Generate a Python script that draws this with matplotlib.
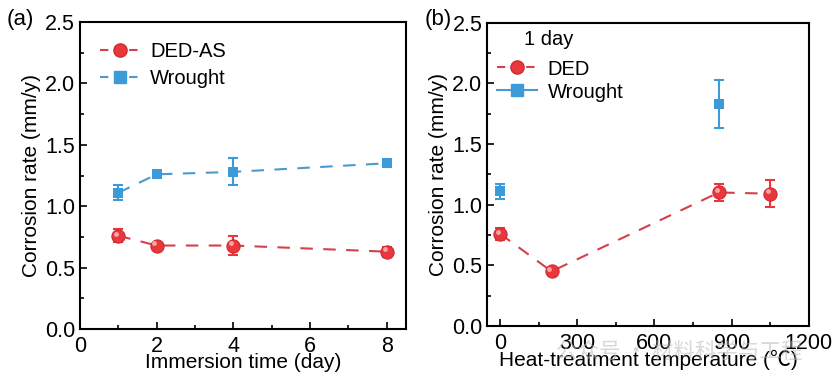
import numpy as np
import matplotlib
matplotlib.use("Agg")
import matplotlib.pyplot as plt
from matplotlib.lines import Line2D
from matplotlib.ticker import MultipleLocator
from matplotlib.transforms import ScaledTranslation

plt.rcParams['font.family'] = ['Liberation Sans', 'Noto Sans CJK SC', 'DejaVu Sans']
plt.rcParams['font.size'] = 14

# (a) immersion time
days = [1, 2, 4, 8]
ded_as = [0.76, 0.68, 0.68, 0.63]
ded_as_err = [0.055, 0.02, 0.08, 0.04]
wrought_a = [1.11, 1.26, 1.28, 1.35]
wrought_a_err = [0.06, 0.02, 0.11, 0.03]

# (b) heat-treatment temperature
temp_ded = [0, 200, 850, 1050]
ded = [0.76, 0.45, 1.10, 1.09]
ded_err = [0.05, 0.03, 0.07, 0.11]
temp_wr = [0, 850]
wrought_b = [1.11, 1.83]
wrought_b_err = [0.06, 0.20]

red = '#e8383d'
red_edge = '#d02a30'
red_line = '#d4404c'
blue = '#3d9ad8'
blue_line = '#4a9acb'

fig = plt.figure(figsize=(8.4, 3.89), dpi=100)
ax1 = fig.add_axes([0.0952, 0.1542, 0.388, 0.789])
ax2 = fig.add_axes([0.580, 0.162, 0.383, 0.780])


def sphere(ax, x, y, err, lc):
    ax.errorbar(x, y, yerr=err, color=red, ecolor=red, elinewidth=1.5, capsize=3.5,
                capthick=1.5, ls='none', zorder=3)
    ax.plot(x, y, ls='--', color=lc, lw=1.5, dashes=(6, 5), zorder=2)
    ax.plot(x, y, 'o', ms=9.5, color=red, mec=red_edge, mew=0.8, zorder=4)
    # small highlight so the marker looks like a shaded ball
    off = ax.transData + ScaledTranslation(-0.022, 0.022, fig.dpi_scale_trans)
    ax.plot(x, y, 'o', ms=3.5, color='#f7a5a5', mew=0, zorder=5, transform=off)


def style(ax):
    ax.tick_params(which='both', direction='in', top=False, right=False, labelsize=15.5)
    ax.tick_params(axis='x', pad=5)
    ax.tick_params(which='major', length=5, width=1.2)
    ax.tick_params(which='minor', length=3, width=1.2)
    for s in ax.spines.values():
        s.set_linewidth(1.5)
    ax.set_ylim(0, 2.5)
    ax.yaxis.set_major_locator(MultipleLocator(0.5))
    ax.yaxis.set_minor_locator(MultipleLocator(0.25))
    ax.yaxis.set_major_formatter(matplotlib.ticker.FormatStrFormatter('%.1f'))
    ax.set_ylabel('Corrosion rate (mm/y)', fontsize=15, labelpad=3)


# panel (a)
sphere(ax1, days, ded_as, ded_as_err, red_line)
ax1.errorbar(days, wrought_a, yerr=wrought_a_err, color=blue, ecolor=blue, elinewidth=1.5,
             capsize=3.5, capthick=1.5, ls='none', zorder=3)
ax1.plot(days, wrought_a, ls='--', color=blue_line, lw=1.5, dashes=(6, 5), zorder=2)
ax1.plot(days, wrought_a, 's', ms=7.5, color=blue, mew=0, zorder=4)
ax1.set_xlim(0, 8.5)
ax1.xaxis.set_major_locator(MultipleLocator(2))
ax1.xaxis.set_minor_locator(MultipleLocator(1))
style(ax1)
ax1.set_xlabel('Immersion time (day)', fontsize=15, labelpad=-3)
h1 = [Line2D([], [], color=red_line, ls='--', dashes=(4, 3), lw=1.5, marker='o', ms=9.5,
             mfc=red, mec=red_edge),
      Line2D([], [], color=blue_line, ls='--', dashes=(4, 3), lw=1.5, marker='s', ms=8.5,
             mfc=blue, mec=blue)]
ax1.legend(h1, ['DED-AS', 'Wrought'], loc='center left', bbox_to_anchor=(0.061, 0.86),
           frameon=False, fontsize=14.5, handlelength=2.0, handletextpad=0.5,
           labelspacing=0.4, borderpad=0, borderaxespad=0)
fig.text(0.008, 0.935, '(a)', fontsize=16)

# panel (b)
sphere(ax2, temp_ded, ded, ded_err, red_line)
ax2.errorbar(temp_wr, wrought_b, yerr=wrought_b_err, color=blue, ecolor=blue, elinewidth=1.5,
             capsize=3.5, capthick=1.5, ls='none', zorder=3)
ax2.plot(temp_wr, wrought_b, 's', ms=7.5, color=blue, mew=0, zorder=4)
ax2.set_xlim(-50, 1200)
ax2.xaxis.set_major_locator(MultipleLocator(300))
ax2.xaxis.set_minor_locator(MultipleLocator(150))
style(ax2)
ax2.set_xlabel('Heat-treatment temperature (\u2103)', fontsize=15, labelpad=-3)
h2 = [Line2D([], [], color=red_line, ls='--', dashes=(4, 3), lw=1.5, marker='o', ms=9.5,
             mfc=red, mec=red_edge),
      Line2D([], [], color=blue_line, ls='-', lw=1.5, marker='s', ms=8.5, mfc=blue, mec=blue)]
ax2.legend(h2, ['DED', 'Wrought'], loc='center left', bbox_to_anchor=(0.031, 0.809),
           frameon=False, fontsize=14.5, handlelength=2.0, handletextpad=0.5,
           labelspacing=0.2, borderpad=0, borderaxespad=0)
ax2.text(0.115, 0.944, '1 day', transform=ax2.transAxes, fontsize=14.5, va='center')
fig.text(0.505, 0.935, '(b)', fontsize=16)

# faint watermark as in the source image
fig.text(0.662, 0.095, '公众号 · 材料科学与工程', fontsize=15.5, color='#b8b8b8', alpha=0.55,
         va='center', family=['Noto Sans CJK SC', 'DejaVu Sans'], zorder=0)

fig.savefig('out.png', dpi=100)
